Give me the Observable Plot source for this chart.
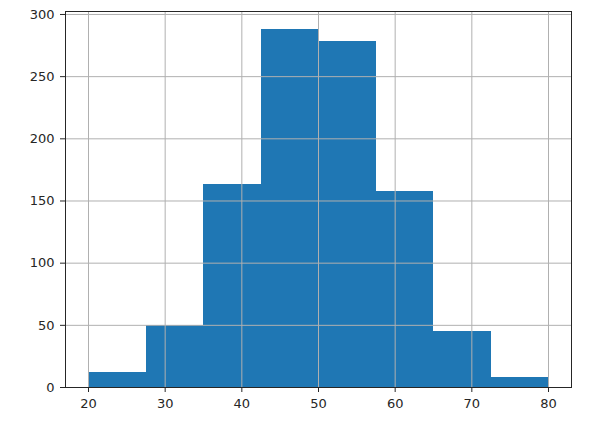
<!DOCTYPE html>
<html>
<head>
<meta charset="utf-8">
<script src="https://cdn.jsdelivr.net/npm/d3@7"></script>
<script src="https://cdn.jsdelivr.net/npm/@observablehq/plot@0.6"></script>
<style>
  html, body { margin: 0; padding: 0; background: #fff; }
  svg { display: block; }
</style>
</head>
<body>
<div id="chart"></div>
<script>
const binEdges = [20, 27.5, 35, 42.5, 50, 57.5, 65, 72.5, 80];
const counts = [12, 50, 163, 288, 278, 158, 45, 8];
const xTicks = [20, 30, 40, 50, 60, 70, 80];
const yTicks = [0, 50, 100, 150, 200, 250, 300];

const bins = counts.map((c, i) => ({x1: binEdges[i], x2: binEdges[i + 1], count: c}));

const chart = Plot.plot({
  width: 600,
  height: 421,
  marginLeft: 65,
  marginRight: 29,
  marginTop: 11,
  marginBottom: 34,
  style: {fontFamily: "DejaVu Sans", fontSize: "13px", color: "#262626", background: "#fff"},
  x: {domain: [17, 83]},
  y: {domain: [0, 302.4]},
  marks: [
    Plot.rectY(bins, {x1: "x1", x2: "x2", y: "count", fill: "#1f77b4", inset: 0, shapeRendering: "crispEdges"}),
    Plot.gridX(xTicks, {stroke: "#b0b0b0", strokeOpacity: 1, strokeWidth: 1}),
    Plot.gridY(yTicks, {stroke: "#b0b0b0", strokeOpacity: 1, strokeWidth: 1}),
    Plot.axisX(xTicks, {tickSize: 5, tickPadding: 6, stroke: "#262626", fill: "#262626", label: null, fontSize: 13}),
    Plot.axisY(yTicks, {tickSize: 5, tickPadding: 6, stroke: "#262626", fill: "#262626", label: null, fontSize: 13}),
    Plot.frame({stroke: "#262626", strokeWidth: 1})
  ]
});
document.getElementById("chart").appendChild(chart);
</script>
</body>
</html>
